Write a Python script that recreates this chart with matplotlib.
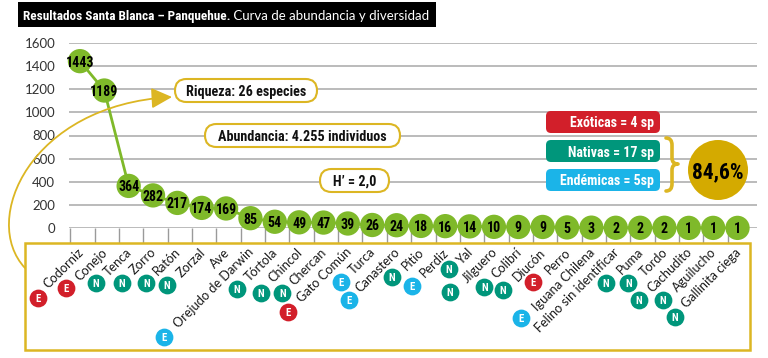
import matplotlib
matplotlib.use("Agg")
import matplotlib.pyplot as plt
from matplotlib import font_manager
from matplotlib.lines import Line2D
from matplotlib.patches import FancyBboxPatch, Rectangle, PathPatch, Circle, FancyArrowPatch
from matplotlib.path import Path
from matplotlib.transforms import Affine2D
import numpy as np

# ---------------- data ----------------
species = ["Codorniz", "Conejo", "Tenca", "Zorro", "Ratón", "Zorzal", "Ave",
           "Orejudo de Darwin", "Tórtola", "Chincol", "Chercan", "Gato Común",
           "Turca", "Canastero", "Pitio", "Perdiz", "Yal", "Jilguero", "Colibrí",
           "Diucón", "Perro", "Iguana Chilena", "Felino sin identificar", "Puma",
           "Tordo", "Cachudito", "Aguilucho", "Gallinita ciega"]
abundance = [1443, 1189, 364, 282, 217, 174, 169, 85, 54, 49, 47, 39, 26, 24,
             18, 16, 14, 10, 9, 9, 5, 3, 2, 2, 2, 1, 1, 1]
# exo = exótica, nat = nativa, end = endémica, "" = sin clasificar
origin = ["exo", "exo", "nat", "nat", "nat", "nat", "", "end", "nat", "nat",
          "nat", "exo", "end", "end", "nat", "end", "nat", "nat", "nat", "nat",
          "exo", "end", "", "nat", "nat", "nat", "nat", "nat"]
yticks = [0, 200, 400, 600, 800, 1000, 1200, 1400, 1600]
title_bold = "Resultados Santa Blanca – Panquehue."
title_rest = " Curva de abundancia y diversidad"
box_riqueza = "Riqueza: 26 especies"
box_abund = "Abundancia: 4.255 individuos"
box_h = "H’ = 2,0"
legend_texts = ["Exóticas = 4 sp", "Nativas = 17 sp", "Endémicas = 5sp"]
pct_text = "84,6%"

# ---------------- layout (pixels) ----------------
# badge offset (dx from category centre, y from top) per species
badge_pos = [(-42, 298), (-38, 288), (-33, 283), (-31, 283), (-31, 283), (-35, 285),
             None, (-86, 337), (-38, 289), (-38, 293), (-41, 293), (-60, 312),
             (-31, 282), (-48, 300), (-29, 277), (-33, 286), (-21, 269), (-44, 292),
             (-34, 287), (-40, 290), (-34, 282), (-70, 318), None, (-34, 283),
             (-36, 283), (-50, 300), (-50, 300), (-63, 317)]


def pick(*names):
    for n in names:
        try:
            font_manager.findfont(n, fallback_to_default=False)
            return n
        except Exception:
            pass
    return "DejaVu Sans"


NARROW = pick("Liberation Sans Narrow", "Roboto Condensed", "Roboto")
REG = pick("Lato", "Open Sans", "DejaVu Sans")

GREEN = "#7fb92a"
GOLD = "#dcb623"
GOLDFILL = "#d4aa00"
RED = "#d21f2a"
TEAL = "#00967b"
CYAN = "#1bb4e8"
COLORS = {"exo": RED, "nat": TEAL, "end": CYAN}
LETTER = {"exo": "E", "nat": "N", "end": "E"}

W, H = 768, 358
fig = plt.figure(figsize=(W / 100, H / 100), dpi=100)
fig.patch.set_facecolor("white")
# pixel (from top-left) transform
T = Affine2D().scale(1 / 100, -1 / 100).translate(0, H / 100) + fig.dpi_scale_trans

# ---------------- main axes ----------------
ax = fig.add_axes([69 / W, 1 - 228 / H, (757 - 69) / W, (228 - 43) / H])
x = np.arange(len(species))
ax.set_xlim(-0.45, len(species) - 0.2)
ax.set_ylim(0, 1600)
ax.set_yticks(yticks)
ax.set_yticklabels([str(v) for v in yticks], family=REG, fontsize=9.5, color="#333333")
ax.grid(axis="y", color="#a8a8a8", lw=1.1)
ax.set_axisbelow(True)
for s in ax.spines.values():
    s.set_visible(False)
ax.tick_params(axis="y", length=0, pad=10)
ax.set_xticks(x - 0.4)
ax.set_xticklabels([])
ax.tick_params(axis="x", length=12, width=1, color="#9a9a9a", direction="out")

ax.plot(x, abundance, color=GREEN, lw=2, zorder=3, clip_on=False)
ax.scatter(x, abundance, s=17.5 ** 2, color=GREEN, zorder=4, clip_on=False,
           edgecolors="none")
for i, v in enumerate(abundance):
    ax.text(i, v, str(v), ha="center", va="center_baseline", fontsize=10,
            fontweight="bold", family=NARROW, color="black", zorder=5)

# ---------------- bottom label box ----------------
fig.add_artist(Rectangle((25, 243), 725, 107, transform=T, fc="white", ec=GOLD,
                         lw=1.8, zorder=1))

# curved arrow
verts = [(25, 268), (-20, 220), (30, 105), (172, 97)]
arr = FancyArrowPatch(path=Path(verts, [Path.MOVETO, Path.CURVE4, Path.CURVE4, Path.CURVE4]),
                      arrowstyle="-|>,head_length=0.9,head_width=0.45", mutation_scale=14,
                      color=GOLD, lw=1.3, transform=T, zorder=2)
fig.add_artist(arr)

fig.canvas.draw()
for i, name in enumerate(species):
    cx = ax.transData.transform((i, 0))[0]
    fig.text(cx - 3, 246, name, transform=T, rotation=45, rotation_mode="anchor",
             ha="right", va="top", fontsize=9.2, family=REG, color="#1a1a1a", zorder=3)
    if origin[i] and badge_pos[i] is not None:
        dx, by = badge_pos[i]
        fig.add_artist(Line2D([cx + dx], [by], marker="o", ms=12.8, ls="none",
                              color=COLORS[origin[i]], mec="none", transform=T, zorder=4))
        fig.text(cx + dx, by, LETTER[origin[i]], transform=T, ha="center",
                 va="center_baseline", color="white", fontsize=7.8, fontweight="bold",
                 family=NARROW, zorder=5)

# ---------------- pill annotations ----------------
def pill(x0, y0, x1, y1, text):
    h = y1 - y0
    fig.add_artist(FancyBboxPatch((x0, y0), x1 - x0, h, transform=T,
                                  boxstyle=f"round,pad=0,rounding_size={h / 2}",
                                  fc="white", ec=GOLD, lw=1.5, zorder=3))
    fig.text((x0 + x1) / 2, (y0 + y1) / 2, text, transform=T, ha="center",
             va="center_baseline", fontsize=10.2, fontweight="bold", family=NARROW,
             color="#111111", zorder=4)


pill(175, 79, 317, 102, box_riqueza)
pill(205, 124, 400, 147, box_abund)
pill(320, 169, 389, 192, box_h)

# ---------------- legend boxes ----------------
for (y0, col, txt) in zip([111, 140, 169], [RED, TEAL, CYAN], legend_texts):
    fig.add_artist(FancyBboxPatch((546, y0), 114, 22, transform=T,
                                  boxstyle="round,pad=0,rounding_size=5",
                                  fc=col, ec="none", zorder=3))
    fig.text(654, y0 + 11, txt, transform=T, ha="right", va="center_baseline",
             fontsize=10, fontweight="bold", family=NARROW, color="white", zorder=4)

# brace
bv = [(666, 138), (672, 138), (672, 145), (672, 145),
      (672, 158), (672, 158), (672, 164), (678, 164),
      (672, 164), (672, 170), (672, 170),
      (672, 184), (672, 184), (672, 191), (666, 191)]
bc = [Path.MOVETO, Path.CURVE3, Path.CURVE3, Path.LINETO,
      Path.LINETO, Path.LINETO, Path.CURVE3, Path.CURVE3,
      Path.CURVE3, Path.CURVE3, Path.LINETO,
      Path.LINETO, Path.LINETO, Path.CURVE3, Path.CURVE3]
fig.add_artist(PathPatch(Path(bv, bc), transform=T, fill=False, ec=GOLD, lw=2.6,
                         capstyle="round", joinstyle="round", zorder=3))

fig.add_artist(Circle((718, 170), 30, transform=T, fc=GOLDFILL, ec="none", zorder=3))
fig.text(718, 170, pct_text, transform=T, ha="center", va="center_baseline",
         fontsize=15.5, fontweight="bold", family=NARROW, color="black", zorder=4)

# ---------------- title ----------------
title_bg = Rectangle((18, 2), 367, 25, transform=T, fc="black", ec="none", zorder=3)
fig.add_artist(title_bg)
t1 = fig.text(23, 15, title_bold, transform=T, ha="left", va="center_baseline",
              fontsize=9.5, fontweight="bold", family=NARROW, color="white", zorder=4)
r = fig.canvas.get_renderer()
bb = t1.get_window_extent(r)
t2 = fig.text(bb.x1, H - 15, title_rest, ha="left", va="center_baseline",
              transform=Affine2D().scale(1 / 100) + fig.dpi_scale_trans,
              fontsize=9.5, family=REG, color="white", zorder=4)
bb2 = t2.get_window_extent(r)
title_bg.set_width(max(367, bb2.x1 + 6 - 18))

fig.savefig("out.png", dpi=100)
